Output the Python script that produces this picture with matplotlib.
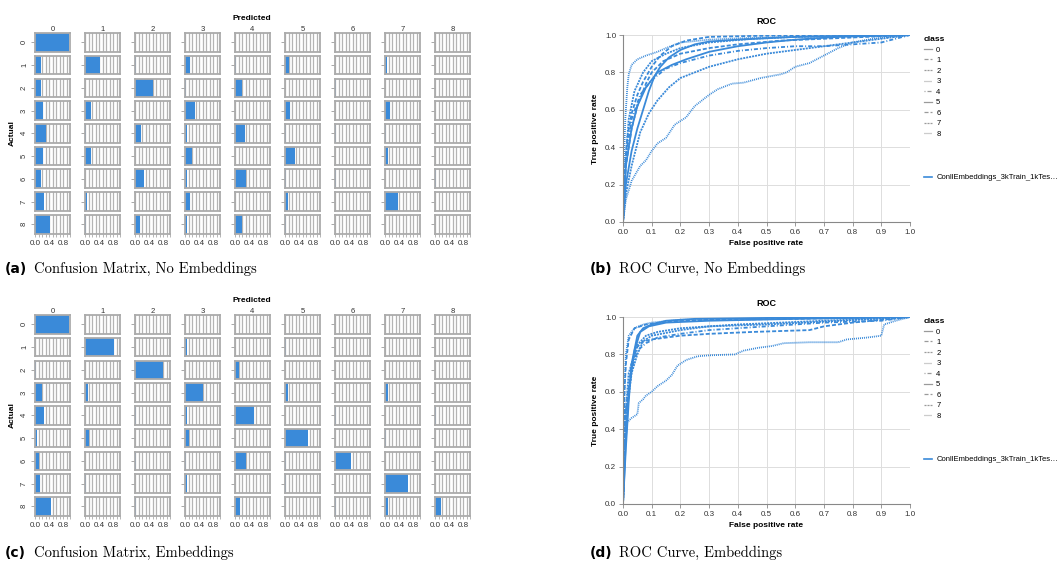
import matplotlib
matplotlib.use("Agg")
import matplotlib.pyplot as plt
from matplotlib.lines import Line2D
import numpy as np

plt.rcParams['font.family'] = ['Liberation Sans', 'DejaVu Sans']
plt.rcParams['lines.scale_dashes'] = False

W, H = 1061, 572
BLUE = '#3a8ad9'
GRID = '#b4b4b4'

classes = [str(i) for i in range(9)]

# confusion matrices, rows = actual, cols = predicted (fraction of row)
cm_no_emb = [
    [0.97, 0.00, 0.00, 0.00, 0.00, 0.00, 0.00, 0.00, 0.00],
    [0.16, 0.43, 0.02, 0.14, 0.03, 0.11, 0.00, 0.06, 0.00],
    [0.16, 0.01, 0.51, 0.02, 0.20, 0.01, 0.02, 0.01, 0.01],
    [0.23, 0.17, 0.00, 0.28, 0.00, 0.15, 0.01, 0.13, 0.00],
    [0.30, 0.02, 0.16, 0.05, 0.29, 0.02, 0.02, 0.04, 0.01],
    [0.24, 0.16, 0.00, 0.19, 0.00, 0.28, 0.00, 0.08, 0.00],
    [0.16, 0.00, 0.26, 0.07, 0.30, 0.02, 0.02, 0.00, 0.04],
    [0.27, 0.05, 0.00, 0.15, 0.00, 0.08, 0.00, 0.37, 0.00],
    [0.44, 0.02, 0.14, 0.07, 0.19, 0.02, 0.01, 0.01, 0.01],
]
cm_emb = [
    [0.97, 0.00, 0.00, 0.00, 0.00, 0.00, 0.00, 0.00, 0.00],
    [0.01, 0.82, 0.01, 0.07, 0.00, 0.03, 0.00, 0.01, 0.00],
    [0.03, 0.01, 0.80, 0.00, 0.11, 0.00, 0.00, 0.00, 0.01],
    [0.21, 0.09, 0.00, 0.50, 0.00, 0.09, 0.00, 0.08, 0.00],
    [0.26, 0.00, 0.02, 0.05, 0.54, 0.00, 0.02, 0.00, 0.02],
    [0.05, 0.10, 0.00, 0.12, 0.00, 0.65, 0.00, 0.04, 0.00],
    [0.10, 0.00, 0.02, 0.03, 0.30, 0.02, 0.47, 0.00, 0.00],
    [0.13, 0.04, 0.00, 0.06, 0.00, 0.03, 0.00, 0.67, 0.01],
    [0.46, 0.01, 0.02, 0.01, 0.14, 0.01, 0.02, 0.09, 0.17],
]

# ROC curves (fpr, tpr) per class, no embeddings
roc_no_emb = {
    '0': ([0, 0.01, 0.03, 0.05, 0.07, 0.09, 0.11, 0.13, 0.16, 0.2, 0.25, 0.3, 0.4, 0.6, 0.8, 1.0],
          [0, 0.2, 0.38, 0.5, 0.6, 0.7, 0.78, 0.83, 0.88, 0.92, 0.95, 0.965, 0.975, 0.99, 0.995, 1.0]),
    '1': ([0, 0.005, 0.015, 0.03, 0.05, 0.07, 0.1, 0.13, 0.17, 0.22, 0.3, 0.45, 0.7, 1.0],
          [0, 0.25, 0.45, 0.58, 0.68, 0.75, 0.83, 0.89, 0.94, 0.97, 0.99, 0.995, 1.0, 1.0]),
    '2': ([0, 0.01, 0.03, 0.06, 0.09, 0.12, 0.16, 0.2, 0.25, 0.3, 0.4, 0.5, 0.6, 0.75, 0.9, 1.0],
          [0, 0.15, 0.3, 0.48, 0.58, 0.65, 0.72, 0.77, 0.8, 0.83, 0.87, 0.9, 0.92, 0.95, 0.98, 1.0]),
    '3': ([0, 0.01, 0.03, 0.06, 0.08, 0.1, 0.12, 0.15, 0.18, 0.22, 0.25, 0.3, 0.33, 0.38, 0.42,
           0.48, 0.55, 0.57, 0.6, 0.65, 0.7, 0.75, 0.8, 0.87, 1.0],
          [0, 0.12, 0.22, 0.3, 0.33, 0.38, 0.42, 0.45, 0.52, 0.56, 0.62, 0.68, 0.71, 0.74, 0.745,
           0.77, 0.79, 0.8, 0.83, 0.85, 0.89, 0.93, 0.96, 0.98, 1.0]),
    '4': ([0, 0.01, 0.03, 0.06, 0.1, 0.15, 0.2, 0.3, 0.4, 0.5, 0.6, 0.7, 0.8, 0.9, 1.0],
          [0, 0.35, 0.55, 0.68, 0.76, 0.82, 0.85, 0.89, 0.915, 0.93, 0.94, 0.94, 0.95, 0.96, 1.0]),
    '5': ([0, 0.01, 0.03, 0.05, 0.08, 0.12, 0.17, 0.22, 0.3, 0.4, 0.5, 0.6, 0.75, 1.0],
          [0, 0.3, 0.5, 0.62, 0.72, 0.8, 0.84, 0.87, 0.91, 0.94, 0.96, 0.975, 0.99, 1.0]),
    '6': ([0, 0.01, 0.03, 0.05, 0.08, 0.1, 0.14, 0.2, 0.3, 0.4, 0.55, 0.7, 0.85, 1.0],
          [0, 0.3, 0.5, 0.62, 0.74, 0.8, 0.86, 0.9, 0.93, 0.95, 0.97, 0.98, 0.99, 1.0]),
    '7': ([0, 0.01, 0.02, 0.04, 0.07, 0.1, 0.15, 0.2, 0.3, 0.45, 0.6, 1.0],
          [0, 0.35, 0.55, 0.7, 0.8, 0.86, 0.9, 0.93, 0.96, 0.98, 0.99, 1.0]),
    '8': ([0, 0.003, 0.008, 0.015, 0.02, 0.03, 0.05, 0.08, 0.12, 0.15, 0.2, 0.3, 0.45, 0.6, 0.8, 1.0],
          [0, 0.3, 0.55, 0.72, 0.79, 0.84, 0.87, 0.89, 0.91, 0.93, 0.96, 0.975, 0.985, 0.99, 0.997, 1.0]),
}

# ROC curves per class, with embeddings
roc_emb = {
    '0': ([0, 0.01, 0.02, 0.03, 0.05, 0.07, 0.1, 0.15, 0.25, 0.5, 1.0],
          [0, 0.3, 0.55, 0.75, 0.9, 0.94, 0.96, 0.98, 0.99, 0.995, 1.0]),
    '1': ([0, 0.01, 0.03, 0.05, 0.07, 0.1, 0.2, 0.3, 0.45, 0.55, 0.65, 0.7, 0.8, 1.0],
          [0, 0.5, 0.75, 0.84, 0.87, 0.88, 0.9, 0.91, 0.92, 0.925, 0.93, 0.95, 0.97, 1.0]),
    '2': ([0, 0.01, 0.03, 0.05, 0.07, 0.1, 0.2, 0.3, 0.5, 0.7, 1.0],
          [0, 0.45, 0.7, 0.8, 0.87, 0.9, 0.93, 0.95, 0.96, 0.975, 1.0]),
    '3': ([0, 0.005, 0.01, 0.03, 0.05, 0.055, 0.07, 0.08, 0.1, 0.12, 0.15, 0.17, 0.19, 0.22, 0.26,
           0.3, 0.39, 0.42, 0.47, 0.52, 0.56, 0.65, 0.75, 0.78, 0.85, 0.9, 0.91, 0.95, 1.0],
          [0, 0.3, 0.43, 0.46, 0.48, 0.54, 0.56, 0.58, 0.6, 0.63, 0.66, 0.69, 0.74, 0.77, 0.79,
           0.795, 0.8, 0.82, 0.835, 0.845, 0.86, 0.865, 0.865, 0.88, 0.89, 0.9, 0.96, 0.98, 1.0]),
    '4': ([0, 0.01, 0.03, 0.05, 0.08, 0.12, 0.2, 0.3, 0.5, 0.7, 0.9, 1.0],
          [0, 0.5, 0.72, 0.82, 0.86, 0.89, 0.91, 0.93, 0.95, 0.97, 0.98, 1.0]),
    '5': ([0, 0.01, 0.02, 0.04, 0.06, 0.09, 0.15, 0.3, 0.6, 1.0],
          [0, 0.35, 0.6, 0.82, 0.92, 0.95, 0.97, 0.98, 0.99, 1.0]),
    '6': ([0, 0.005, 0.01, 0.02, 0.04, 0.08, 0.15, 0.3, 0.6, 1.0],
          [0, 0.6, 0.75, 0.88, 0.94, 0.96, 0.975, 0.985, 0.99, 1.0]),
    '7': ([0, 0.005, 0.02, 0.05, 0.08, 0.12, 0.2, 0.4, 0.7, 1.0],
          [0, 0.4, 0.7, 0.85, 0.9, 0.92, 0.94, 0.96, 0.98, 1.0]),
    '8': ([0, 0.005, 0.01, 0.02, 0.04, 0.07, 0.1, 0.2, 0.4, 1.0],
          [0, 0.6, 0.8, 0.9, 0.94, 0.96, 0.97, 0.985, 0.99, 1.0]),
}

series_name = 'ConllEmbeddings_3kTrain_1kTes\u2026'

# vega-style stroke dash per class (in points)
dash_cycle = [None, (2.9, 1.45), (1.45, 0.72), (0.72, 0.72), (0.72, 1.45, 2.9, 1.45)]


def box(x0, y0, w, h):
    return [x0 / W, 1 - (y0 + h) / H, w / W, h / H]


fig = plt.figure(figsize=(W / 100, H / 100), dpi=100)


def draw_matrix(vals, top):
    for r in range(9):
        for c in range(9):
            ax = fig.add_axes(box(35 + 50 * c, top + 22.75 * r, 35, 18.5))
            ax.barh([0], [vals[r][c]], height=1.0, color=BLUE, zorder=2)
            ax.set_xlim(0, 1)
            ax.set_ylim(-0.5, 0.5)
            ax.set_xticks(np.arange(0, 1.01, 0.1))
            ax.grid(axis='x', color=GRID, lw=0.9, zorder=0)
            ax.set_axisbelow(True)
            for s in ax.spines.values():
                s.set_color('#ababab')
                s.set_linewidth(1.3)
            ax.set_yticks([0])
            ax.tick_params(axis='y', length=3, width=0.6, color='#999999', pad=2,
                           labelsize=5.5, labelcolor='#333333')
            if c == 0:
                ax.set_yticklabels([classes[r]], rotation=90, va='center')
            else:
                ax.set_yticklabels([])
            if r == 8:
                labs = ['' for _ in range(11)]
                labs[0], labs[4], labs[8] = '0.0', '0.4', '0.8'
                ax.set_xticklabels(labs)
                ax.tick_params(axis='x', length=2.5, width=0.5, color='#999999', pad=2,
                               labelsize=5.8, labelcolor='#333333')
            else:
                ax.set_xticklabels([])
                ax.tick_params(axis='x', length=0)
            if r == 0:
                ax.set_title(classes[c], fontsize=5.5, pad=1.5, color='#333333')
    fig.text(252 / W, 1 - (top - 15) / H, 'Predicted', ha='center', va='center',
             fontsize=6, fontweight='bold')
    fig.text(12 / W, 1 - (top + 100) / H, 'Actual', ha='center', va='center',
             fontsize=6, fontweight='bold', rotation=90)


def draw_roc(curves, top):
    ax = fig.add_axes(box(623, top, 287, 187))
    for i, k in enumerate(classes):
        fpr, tpr = curves[k]
        d = dash_cycle[i % 5]
        ln, = ax.plot(fpr, tpr, color=BLUE, lw=1.3)
        if d is not None:
            ln.set_dashes(d)
    ax.set_xlim(0, 1)
    ax.set_ylim(0, 1)
    ax.set_xticks(np.arange(0, 1.01, 0.1))
    ax.set_yticks(np.arange(0, 1.01, 0.2))
    ax.xaxis.set_major_formatter(plt.FormatStrFormatter('%.1f'))
    ax.yaxis.set_major_formatter(plt.FormatStrFormatter('%.1f'))
    ax.grid(color='#dddddd', lw=0.7)
    ax.set_axisbelow(True)
    for s in ['top', 'right']:
        ax.spines[s].set_visible(False)
    for s in ['left', 'bottom']:
        ax.spines[s].set_color('#888888')
        ax.spines[s].set_linewidth(0.8)
    ax.tick_params(length=3, width=0.6, color='#888888', labelsize=5.8,
                   labelcolor='#333333', pad=2)
    ax.set_title('ROC', fontsize=6.5, fontweight='bold', pad=8)
    ax.set_xlabel('False positive rate', fontsize=6, fontweight='bold', labelpad=3)
    ax.set_ylabel('True positive rate', fontsize=6, fontweight='bold', labelpad=4)

    handles = []
    for i in range(9):
        h = Line2D([], [], color='#9a9a9a', lw=0.9)
        d = dash_cycle[i % 5]
        if d is not None:
            h.set_dashes(d)
        handles.append(h)
    leg = ax.legend(handles, classes, title='class', loc='upper left',
                    bbox_to_anchor=(924 / W, 1 - (top + 1) / H),
                    bbox_transform=fig.transFigure, frameon=False, fontsize=5.5,
                    title_fontproperties={'weight': 'bold', 'size': 6},
                    handlelength=1.1, handletextpad=0.5, labelspacing=0.42,
                    borderpad=0, borderaxespad=0, alignment='left')
    ax.add_artist(leg)
    ax.legend([Line2D([], [], color=BLUE, lw=1.2)], [series_name], loc='upper left',
              bbox_to_anchor=(924 / W, 1 - (top + 139) / H),
              bbox_transform=fig.transFigure, frameon=False, fontsize=5.5,
              handlelength=1.1, handletextpad=0.5, borderpad=0, borderaxespad=0)


draw_matrix(cm_no_emb, 33)
draw_matrix(cm_emb, 315)
draw_roc(roc_no_emb, 35)
draw_roc(roc_emb, 317)

captions = [
    (5, 269, '(a)', 'Confusion Matrix, No Embeddings'),
    (590, 269, '(b)', 'ROC Curve, No Embeddings'),
    (5, 553, '(c)', 'Confusion Matrix, Embeddings'),
    (590, 553, '(d)', 'ROC Curve, Embeddings'),
]
for x, y, lab, txt in captions:
    fig.text(x / W, 1 - y / H, lab, ha='left', va='center', fontsize=10,
             fontweight='bold', family='DejaVu Sans')
    fig.text((x + 29) / W, 1 - y / H, txt, ha='left', va='center', fontsize=10.5,
             family='cmr10')

fig.savefig('out.png', dpi=100)
